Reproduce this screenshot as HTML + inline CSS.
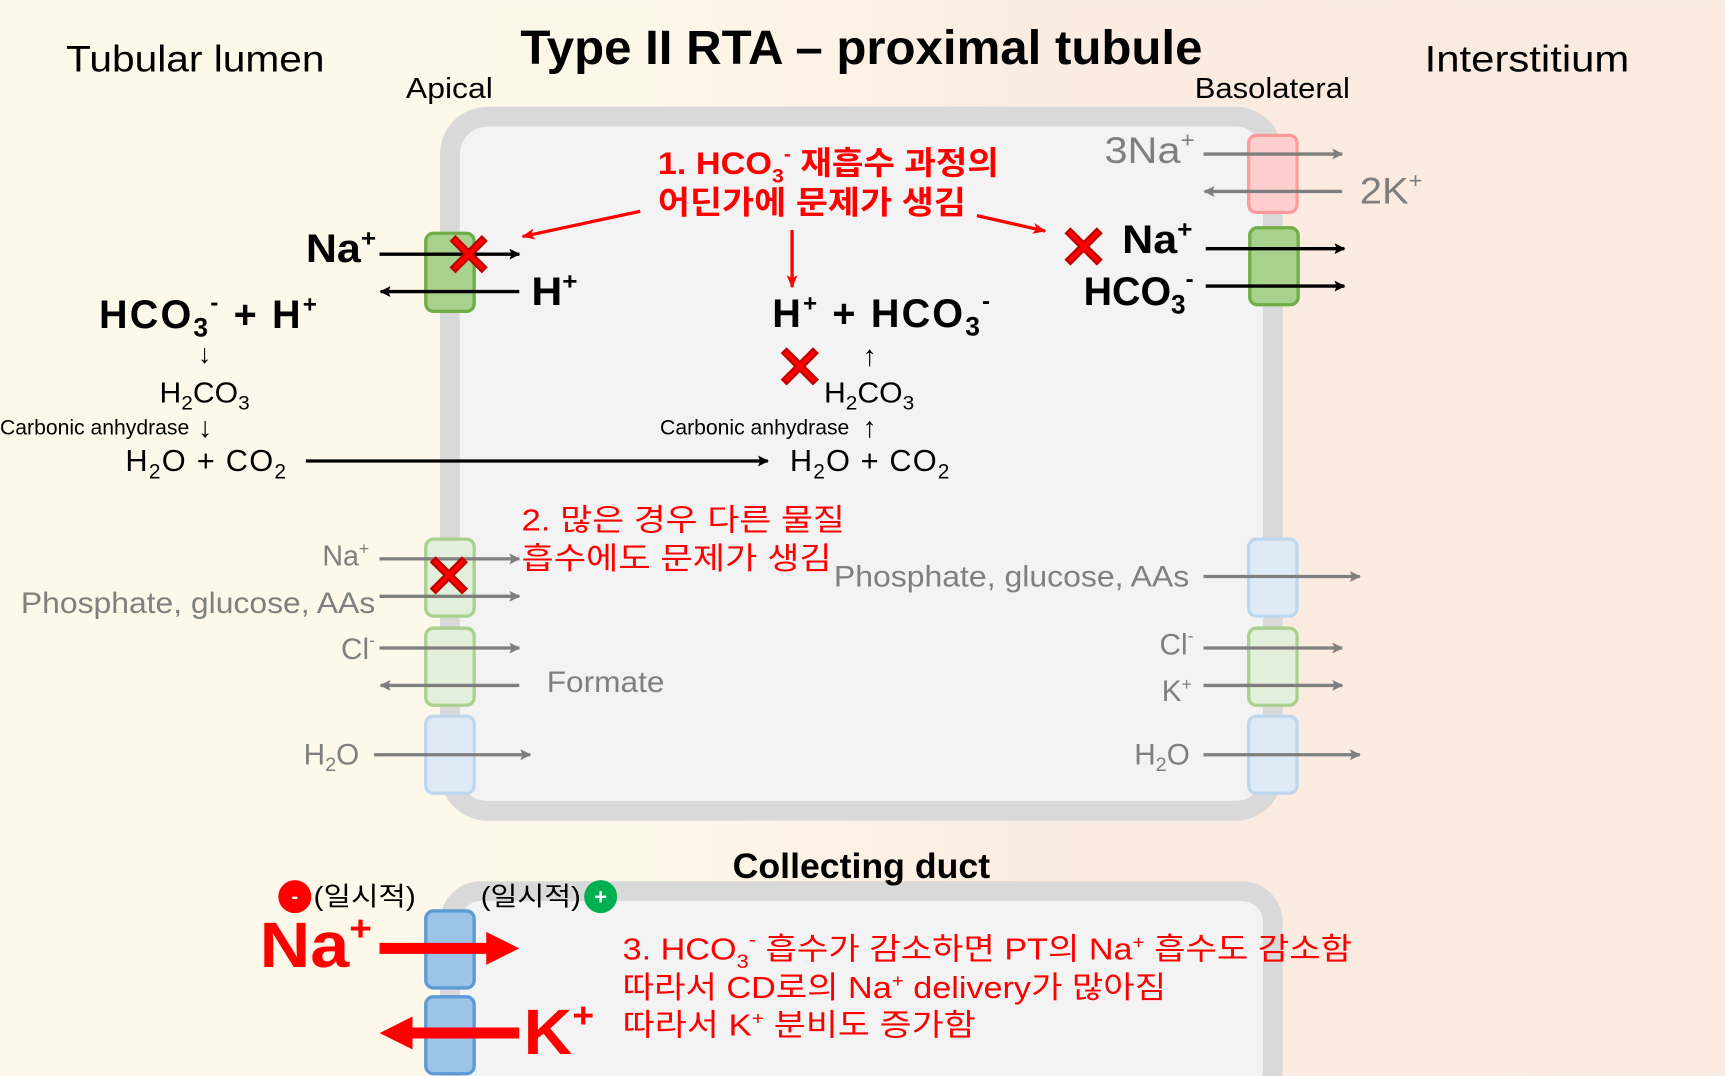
<!DOCTYPE html>
<html><head><meta charset="utf-8"><style>
html,body{margin:0;padding:0;width:1725px;height:1076px;overflow:hidden}
svg{display:block}
text{font-family:"Liberation Sans","Noto Sans CJK KR",sans-serif}
.b{font-weight:bold}
</style></head><body>
<svg width="1725" height="1076" viewBox="0 0 1568 978" xmlns="http://www.w3.org/2000/svg">
<defs>
<linearGradient id="bg" x1="0" x2="1" y1="0" y2="0">
<stop offset="0" stop-color="#fdf9ea"/><stop offset="0.38" stop-color="#fdf7e8"/><stop offset="0.62" stop-color="#fbebe1"/><stop offset="1" stop-color="#faeae0"/>
</linearGradient>
<marker id="ak" markerWidth="10" markerHeight="10" refX="9" refY="5" orient="auto" markerUnits="userSpaceOnUse"><path d="M0,0 L10,5 L0,10 L2,5z" fill="#000"/></marker>
<marker id="ag" markerWidth="10" markerHeight="10" refX="9" refY="5" orient="auto" markerUnits="userSpaceOnUse"><path d="M0,0 L10,5 L0,10 L2,5z" fill="#7f7f7f"/></marker>
<marker id="ar" markerWidth="12" markerHeight="10" refX="11" refY="5" orient="auto" markerUnits="userSpaceOnUse"><path d="M0,0 L12,5 L0,10 L3,5z" fill="#f00"/></marker>
<g id="x"><path d="M-16,-12 L-12,-16 L0,-4 L12,-16 L16,-12 L4,0 L16,12 L12,16 L0,4 L-12,16 L-16,12 L-4,0z" fill="#f00" stroke="#c00000" stroke-width="2"/></g>
</defs>
<rect width="1568" height="978" fill="url(#bg)"/>
<rect x="409" y="106" width="748" height="631" rx="34" fill="#f3f3f3" stroke="#d9d9d9" stroke-width="18"/>
<rect x="409" y="810" width="748" height="190" rx="28" fill="#f3f3f3" stroke="#d9d9d9" stroke-width="18"/>
<text x="473" y="58" font-size="44" class="b" textLength="620" lengthAdjust="spacingAndGlyphs">Type II RTA – proximal tubule</text>
<text x="60" y="65" font-size="34" textLength="235" lengthAdjust="spacingAndGlyphs">Tubular lumen</text>
<text x="1295" y="65" font-size="34" textLength="186" lengthAdjust="spacingAndGlyphs">Interstitium</text>
<text x="369" y="89" font-size="26" textLength="79" lengthAdjust="spacingAndGlyphs">Apical</text>
<text x="1086" y="89" font-size="26" textLength="141" lengthAdjust="spacingAndGlyphs">Basolateral</text>
<rect x="387" y="212" width="44" height="71" rx="7" fill="#a9d18e" stroke="#70ad47" stroke-width="3"/>
<rect x="1135" y="123" width="44" height="70" rx="7" fill="#ffcfcf" stroke="#ff9b9b" stroke-width="3"/>
<rect x="1136" y="207" width="44" height="70" rx="7" fill="#a9d18e" stroke="#70ad47" stroke-width="3"/>
<rect x="387" y="490" width="44" height="70" rx="7" fill="#e2efda" stroke="#a9d18e" stroke-width="3"/>
<rect x="387" y="571" width="44" height="70" rx="7" fill="#e2efda" stroke="#a9d18e" stroke-width="3"/>
<rect x="387" y="651" width="44" height="70" rx="7" fill="#deebf7" stroke="#bdd7ee" stroke-width="3"/>
<rect x="1135" y="490" width="44" height="70" rx="7" fill="#deebf7" stroke="#bdd7ee" stroke-width="3"/>
<rect x="1135" y="571" width="44" height="70" rx="7" fill="#e2efda" stroke="#a9d18e" stroke-width="3"/>
<rect x="1135" y="651" width="44" height="70" rx="7" fill="#deebf7" stroke="#bdd7ee" stroke-width="3"/>
<rect x="387" y="828" width="44" height="70" rx="7" fill="#9dc3e6" stroke="#5b9bd5" stroke-width="3"/>
<rect x="387" y="906" width="44" height="70" rx="7" fill="#9dc3e6" stroke="#5b9bd5" stroke-width="3"/>
<g stroke="#000" stroke-width="3" marker-end="url(#ak)">
<line x1="345" y1="231" x2="472" y2="231"/>
<line x1="472" y1="265" x2="346" y2="265"/>
<line x1="1096" y1="226" x2="1222" y2="226"/>
<line x1="1096" y1="260" x2="1222" y2="260"/>
<line x1="278" y1="419" x2="698" y2="419"/>
</g>
<g stroke="#7f7f7f" stroke-width="3" marker-end="url(#ag)">
<line x1="1094" y1="140" x2="1220" y2="140"/>
<line x1="1220" y1="174" x2="1095" y2="174"/>
<line x1="345" y1="508" x2="472" y2="508"/>
<line x1="345" y1="542" x2="472" y2="542"/>
<line x1="345" y1="589" x2="472" y2="589"/>
<line x1="472" y1="623" x2="346" y2="623"/>
<line x1="340" y1="686" x2="482" y2="686"/>
<line x1="1094" y1="524" x2="1236" y2="524"/>
<line x1="1094" y1="589" x2="1220" y2="589"/>
<line x1="1094" y1="623" x2="1220" y2="623"/>
<line x1="1094" y1="686" x2="1236" y2="686"/>
</g>
<g stroke="#f00" stroke-width="3" marker-end="url(#ar)">
<line x1="582" y1="192" x2="475" y2="215"/>
<line x1="888" y1="196" x2="950" y2="210"/>
<line x1="720" y1="209" x2="720" y2="261"/>
</g>
<text x="278" y="238" font-size="36" class="b" textLength="64" lengthAdjust="spacingAndGlyphs">Na<tspan font-size="22" dy="-14">+</tspan></text>
<text x="483" y="277" font-size="36" class="b" textLength="42" lengthAdjust="spacingAndGlyphs">H<tspan font-size="22" dy="-14">+</tspan></text>
<text x="90" y="298" font-size="36" class="b" textLength="198" lengthAdjust="spacing">HCO<tspan font-size="24" dy="8">3</tspan><tspan font-size="22" dy="-24">-</tspan><tspan dy="16"> + H</tspan><tspan font-size="22" dy="-14">+</tspan></text>
<text x="180" y="330" font-size="24">↓</text>
<text x="145" y="366" font-size="26" textLength="82" lengthAdjust="spacingAndGlyphs">H<tspan font-size="18" dy="6">2</tspan><tspan dy="-6">CO</tspan><tspan font-size="18" dy="6">3</tspan></text>
<text x="0" y="395" font-size="19" textLength="172" lengthAdjust="spacingAndGlyphs">Carbonic anhydrase</text>
<text x="180" y="397" font-size="26">↓</text>
<text x="114" y="428" font-size="28" textLength="146" lengthAdjust="spacing">H<tspan font-size="19" dy="7">2</tspan><tspan dy="-7">O + CO</tspan><tspan font-size="19" dy="7">2</tspan></text>
<text x="702" y="297" font-size="36" class="b" textLength="198" lengthAdjust="spacing">H<tspan font-size="22" dy="-14">+</tspan><tspan dy="14"> + HCO</tspan><tspan font-size="24" dy="8">3</tspan><tspan font-size="22" dy="-24">-</tspan></text>
<text x="784" y="332" font-size="26">↑</text>
<text x="749" y="366" font-size="26" textLength="82" lengthAdjust="spacingAndGlyphs">H<tspan font-size="18" dy="6">2</tspan><tspan dy="-6">CO</tspan><tspan font-size="18" dy="6">3</tspan></text>
<text x="600" y="395" font-size="19" textLength="172" lengthAdjust="spacingAndGlyphs">Carbonic anhydrase</text>
<text x="784" y="397" font-size="26">↑</text>
<text x="718" y="428" font-size="28" textLength="145" lengthAdjust="spacing">H<tspan font-size="19" dy="7">2</tspan><tspan dy="-7">O + CO</tspan><tspan font-size="19" dy="7">2</tspan></text>
<text x="1020" y="230" font-size="36" class="b" textLength="64" lengthAdjust="spacingAndGlyphs">Na<tspan font-size="22" dy="-14">+</tspan></text>
<text x="985" y="277" font-size="36" class="b" textLength="100" lengthAdjust="spacingAndGlyphs">HCO<tspan font-size="24" dy="8">3</tspan><tspan font-size="22" dy="-24">-</tspan></text>
<g fill="#7f7f7f">
<text x="1004" y="148" font-size="34" textLength="82" lengthAdjust="spacingAndGlyphs">3Na<tspan font-size="20" dy="-14">+</tspan></text>
<text x="1236" y="185" font-size="34" textLength="57" lengthAdjust="spacingAndGlyphs">2K<tspan font-size="20" dy="-14">+</tspan></text>
<text x="293" y="514" font-size="26">Na<tspan font-size="16" dy="-10">+</tspan></text>
<text x="19" y="557" font-size="27" textLength="322" lengthAdjust="spacingAndGlyphs">Phosphate, glucose, AAs</text>
<text x="310" y="599" font-size="27">Cl<tspan font-size="16" dy="-12">-</tspan></text>
<text x="497" y="629" font-size="27" textLength="107" lengthAdjust="spacingAndGlyphs">Formate</text>
<text x="276" y="695" font-size="27">H<tspan font-size="18" dy="6">2</tspan><tspan dy="-6">O</tspan></text>
<text x="758" y="533" font-size="27" textLength="323" lengthAdjust="spacingAndGlyphs">Phosphate, glucose, AAs</text>
<text x="1054" y="595" font-size="27">Cl<tspan font-size="16" dy="-12">-</tspan></text>
<text x="1056" y="637" font-size="27">K<tspan font-size="16" dy="-10">+</tspan></text>
<text x="1031" y="695" font-size="27">H<tspan font-size="18" dy="6">2</tspan><tspan dy="-6">O</tspan></text>
</g>
<g fill="#f00">
<text x="598" y="158" font-size="29" class="b" textLength="310" lengthAdjust="spacingAndGlyphs">1. HCO<tspan font-size="18" dy="8">3</tspan><tspan font-size="18" dy="-20">-</tspan><tspan dy="12"> 재흡수 과정의</tspan></text>
<text x="598" y="194" font-size="29" class="b" textLength="280" lengthAdjust="spacingAndGlyphs">어딘가에 문제가 생김</text>
<text x="474" y="482" font-size="28" textLength="294" lengthAdjust="spacingAndGlyphs">2. 많은 경우 다른 물질</text>
<text x="474" y="517" font-size="28" textLength="282" lengthAdjust="spacingAndGlyphs">흡수에도 문제가 생김</text>
<text x="566" y="872" font-size="28" textLength="663" lengthAdjust="spacingAndGlyphs">3. HCO<tspan font-size="18" dy="8">3</tspan><tspan font-size="18" dy="-20">-</tspan><tspan dy="12"> 흡수가 감소하면 PT의 Na</tspan><tspan font-size="17" dy="-10">+</tspan><tspan dy="10"> 흡수도 감소함</tspan></text>
<text x="566" y="907" font-size="28" textLength="494" lengthAdjust="spacingAndGlyphs">따라서 CD로의 Na<tspan font-size="17" dy="-10">+</tspan><tspan dy="10"> delivery가 많아짐</tspan></text>
<text x="566" y="941" font-size="28" textLength="321" lengthAdjust="spacingAndGlyphs">따라서 K<tspan font-size="17" dy="-10">+</tspan><tspan dy="10"> 분비도 증가함</tspan></text>
<text x="236" y="879" font-size="58" class="b" textLength="102" lengthAdjust="spacingAndGlyphs">Na<tspan font-size="32" dy="-24">+</tspan></text>
<text x="476" y="958" font-size="58" class="b" textLength="64" lengthAdjust="spacingAndGlyphs">K<tspan font-size="32" dy="-24">+</tspan></text>
</g>
<path d="M345,857 L442,857 L442,847 L472,862 L442,877 L442,867 L345,867z" fill="#f00"/>
<path d="M472,934 L375,934 L375,924 L345,939 L375,954 L375,944 L472,944z" fill="#f00"/>
<text x="666" y="798" font-size="32" class="b" textLength="234" lengthAdjust="spacingAndGlyphs">Collecting duct</text>
<circle cx="268" cy="815" r="15" fill="#f00"/><text x="268" y="821" font-size="18" fill="#fff" text-anchor="middle" class="b">-</text>
<text x="285" y="823" font-size="24" textLength="93" lengthAdjust="spacingAndGlyphs">(일시적)</text>
<text x="437" y="823" font-size="24" textLength="91" lengthAdjust="spacingAndGlyphs">(일시적)</text>
<circle cx="546" cy="815" r="15" fill="#00b050"/><text x="546" y="822" font-size="20" fill="#fff" text-anchor="middle" class="b">+</text>
<use href="#x" x="426" y="231"/>
<use href="#x" x="985" y="224"/>
<use href="#x" x="727" y="333"/>
<use href="#x" x="408" y="523"/>
</svg>
</body></html>
